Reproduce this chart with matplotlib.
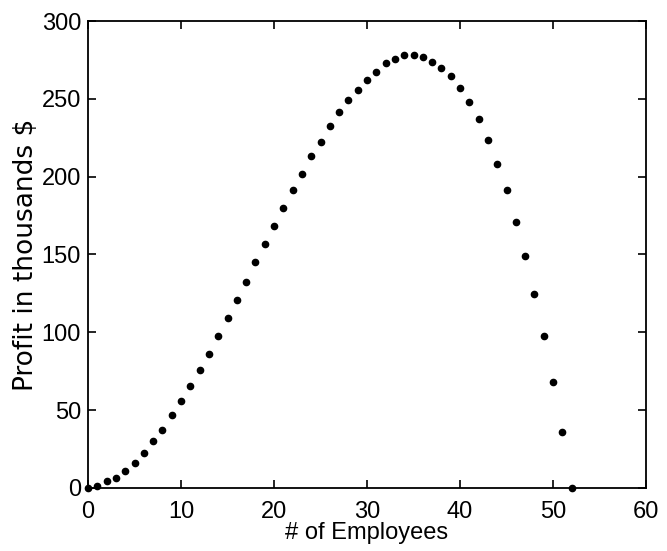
import matplotlib.pyplot as plt

# number of employees vs profit (thousands $)
employees = list(range(0, 53))
profit = [0, 1.5, 4.3, 6.6, 10.9, 15.8, 22.3, 30, 37.5, 46.7,
          55.7, 65.7, 76, 86.3, 97.8, 109.4, 121, 132.5, 145.2, 156.5,
          168.3, 179.8, 191.4, 201.7, 213.5, 222.4, 232.5, 241.5, 249.2, 255.8,
          262, 267.4, 272.7, 275.3, 277.9, 277.9, 276.6, 273.8, 270, 264.8,
          256.9, 248.1, 236.8, 223.5, 208.3, 191.4, 171, 149.2, 124.8, 97.6,
          68, 36.2, 0]

plt.rcParams['font.family'] = ['Liberation Sans', 'DejaVu Sans']

fig = plt.figure(figsize=(6.67, 5.51), dpi=100)
ax = fig.add_axes([88 / 667, 63 / 551, 558 / 667, 467 / 551])
ax.plot(employees, profit, 'o', color='black', markersize=4.5, clip_on=False)

ax.set_xlim(0, 60)
ax.set_ylim(0, 300)
ax.set_xticks(range(0, 61, 10))
ax.set_yticks(range(0, 301, 50))
ax.tick_params(direction='in', top=True, right=True, labelsize=17, length=6, width=1.2)
ax.tick_params(axis='x', pad=9)
ax.tick_params(axis='y', pad=5)
for s in ax.spines.values():
    s.set_linewidth(1.3)

ax.set_xlabel('# of Employees', fontsize=17, labelpad=0)
ax.set_ylabel('Profit in thousands $', fontsize=19, family='DejaVu Sans', labelpad=2)

plt.savefig('out.png', dpi=100)
